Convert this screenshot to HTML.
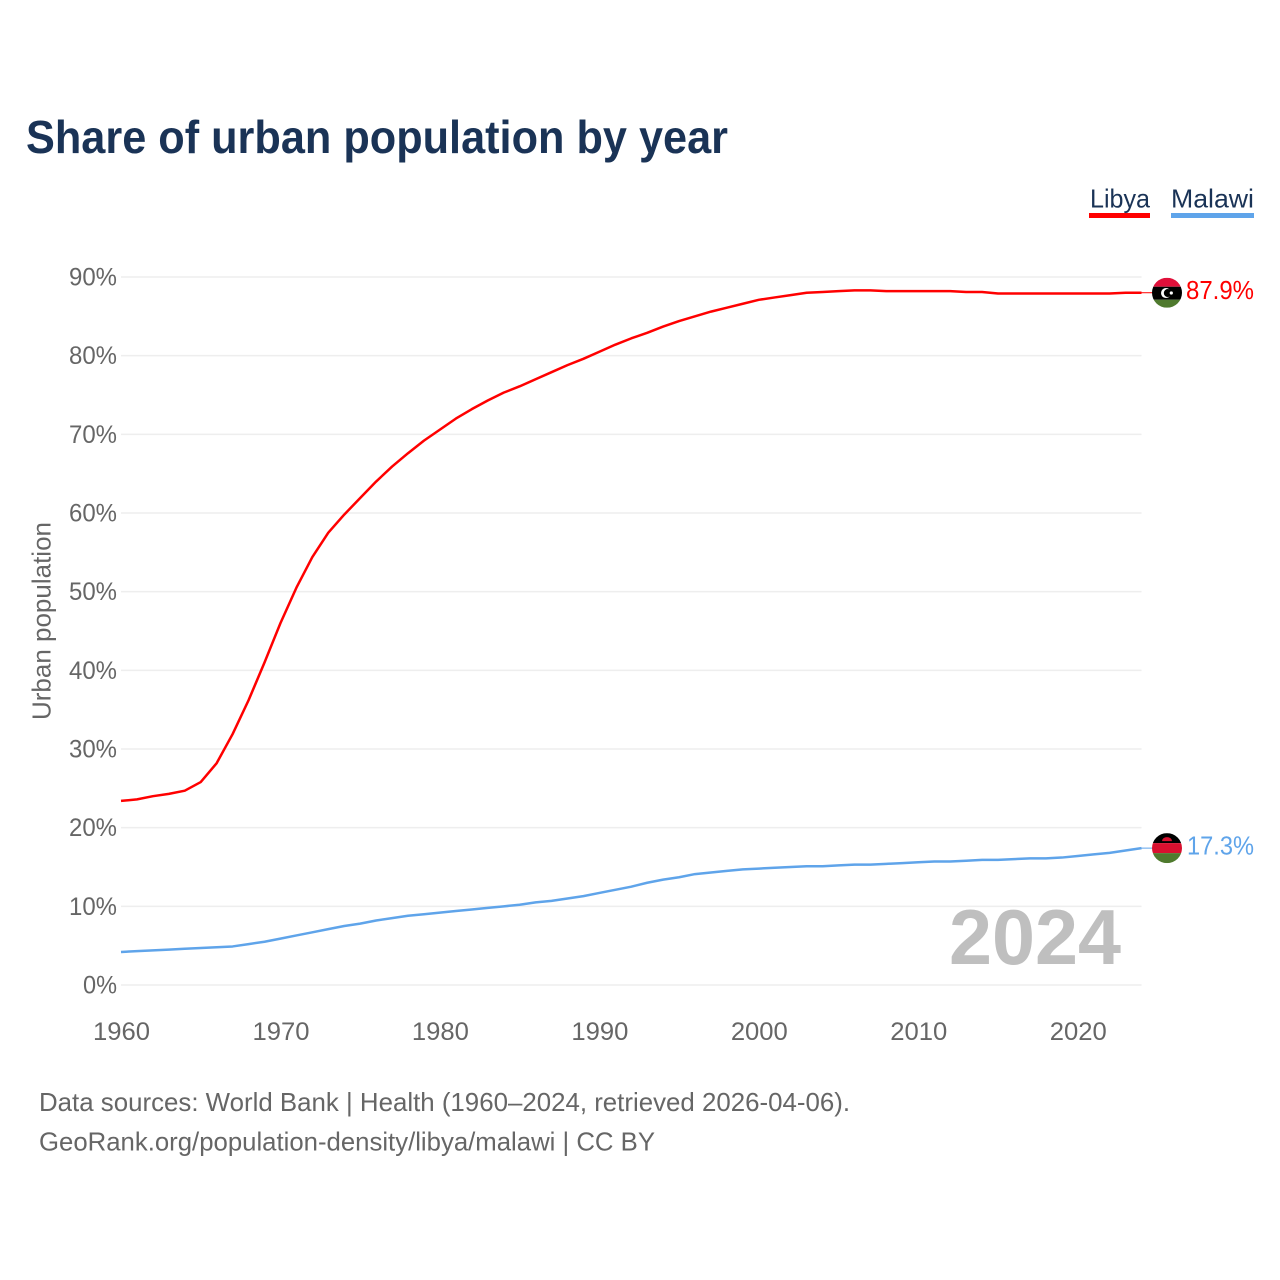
<!DOCTYPE html>
<html lang="en">
<head>
<meta charset="utf-8">
<title>Share of urban population by year</title>
<style>
html,body{margin:0;padding:0;background:#fff;width:1280px;height:1280px;overflow:hidden}
svg{display:block}
text{font-family:"Liberation Sans",sans-serif}
</style>
</head>
<body>
<svg id="chart" xmlns="http://www.w3.org/2000/svg" width="1280" height="1280" viewBox="0 0 1280 1280">
  <defs>
    <clipPath id="flag-clip"><circle cx="0" cy="0" r="15"></circle></clipPath>
  </defs>
  <rect x="0" y="0" width="1280" height="1280" fill="#fff"></rect>
  <text x="26" y="153" font-size="46" font-weight="700" fill="#1a3356" textLength="702" lengthAdjust="spacingAndGlyphs">Share of urban population by year</text>

  <g>
    <text x="1090" y="207.5" font-size="26" fill="#1a3356" textLength="60" lengthAdjust="spacingAndGlyphs">Libya</text>
    <rect x="1089" y="213" width="61" height="5" fill="#ff0000"></rect>
  </g>
  <g>
    <text x="1171" y="207.5" font-size="26" fill="#1a3356" textLength="83" lengthAdjust="spacingAndGlyphs">Malawi</text>
    <rect x="1171" y="213" width="83" height="5" fill="#5fa4ea"></rect>
  </g>

  <text transform="translate(50.5,621) rotate(-90)" text-anchor="middle" font-size="26" fill="#666" textLength="198" lengthAdjust="spacingAndGlyphs">Urban population</text>

  <g id="grid"></g>
  <g id="y-labels"></g>
  <g id="x-labels"></g>

  <text x="949" y="964" font-size="78" font-weight="700" fill="#bfbfbf" textLength="172" lengthAdjust="spacingAndGlyphs">2024</text>

  <path id="line-libya" fill="none" stroke="#ff0000" stroke-width="2.5" stroke-linejoin="round"></path>
  <path id="line-malawi" fill="none" stroke="#5fa4ea" stroke-width="2.5" stroke-linejoin="round"></path>
  <line id="leader-libya" stroke="#ff0000" stroke-width="1"></line>
  <line id="leader-malawi" stroke="#5fa4ea" stroke-width="1"></line>

  <g id="flag-libya">
    <g clip-path="url(#flag-clip)">
      <rect x="-15" y="-15" width="30" height="9" fill="#e0103a"></rect>
      <rect x="-15" y="-6" width="30" height="13" fill="#000"></rect>
      <rect x="-15" y="7" width="30" height="8" fill="#4f7a2e"></rect>
      <circle cx="-1" cy="0.3" r="5" fill="#fff"></circle>
      <circle cx="0.8" cy="0.3" r="4" fill="#000"></circle>
      <circle cx="4.3" cy="0.3" r="1.6" fill="#fff"></circle>
    </g>
  </g>
  <g id="flag-malawi">
    <g clip-path="url(#flag-clip)">
      <rect x="-15" y="-15" width="30" height="10" fill="#000"></rect>
      <rect x="-15" y="-5" width="30" height="10" fill="#d9102f"></rect>
      <rect x="-15" y="5" width="30" height="10" fill="#4f7a2e"></rect>
      <path d="M-5 -7 A5 4 0 0 1 5 -7 Z" fill="#d9102f"></path>
    </g>
  </g>
  <text id="value-libya" x="1254" text-anchor="end" font-size="26" fill="#ff0000" textLength="68" lengthAdjust="spacingAndGlyphs">87.9%</text>
  <text id="value-malawi" x="1254" text-anchor="end" font-size="26" fill="#5fa4ea" textLength="67" lengthAdjust="spacingAndGlyphs">17.3%</text>

  <text x="39" y="1111" font-size="26" fill="#666" textLength="811" lengthAdjust="spacingAndGlyphs">Data sources: World Bank | Health (1960–2024, retrieved 2026-04-06).</text>
  <text x="39" y="1150.5" font-size="26" fill="#666" textLength="616" lengthAdjust="spacingAndGlyphs">GeoRank.org/population-density/libya/malawi | CC BY</text>
</svg>
<script>
const firstYear = 1960;
const lastYear = 2024;
const xTicks = [1960, 1970, 1980, 1990, 2000, 2010, 2020];
const yTicks = [0, 10, 20, 30, 40, 50, 60, 70, 80, 90];
const libya = [23.4,23.6,24.0,24.3,24.7,25.8,28.2,31.9,36.2,41.0,
  46.0,50.5,54.4,57.5,59.8,61.9,64.0,65.9,67.6,69.2,
  70.6,72.0,73.2,74.3,75.3,76.1,77.0,77.9,78.8,79.6,
  80.5,81.4,82.2,82.9,83.7,84.4,85.0,85.6,86.1,86.6,
  87.1,87.4,87.7,88.0,88.1,88.2,88.3,88.3,88.2,88.2,
  88.2,88.2,88.2,88.1,88.1,87.9,87.9,87.9,87.9,87.9,
  87.9,87.9,87.9,88.0,88.0];
const malawi = [4.2,4.3,4.4,4.5,4.6,4.7,4.8,4.9,5.2,5.5,
  5.9,6.3,6.7,7.1,7.5,7.8,8.2,8.5,8.8,9.0,
  9.2,9.4,9.6,9.8,10.0,10.2,10.5,10.7,11.0,11.3,
  11.7,12.1,12.5,13.0,13.4,13.7,14.1,14.3,14.5,14.7,
  14.8,14.9,15.0,15.1,15.1,15.2,15.3,15.3,15.4,15.5,
  15.6,15.7,15.7,15.8,15.9,15.9,16.0,16.1,16.1,16.2,
  16.4,16.6,16.8,17.1,17.4];

const NS = 'http://www.w3.org/2000/svg';
const plotLeft = 121, plotRight = 1141.5, plotBottom = 985, plotTop = 277;
function xScale(year) {
  return plotLeft + (year - firstYear) / (lastYear - firstYear) * (plotRight - plotLeft);
}
function yScale(value) {
  return plotBottom - value / 90 * (plotBottom - plotTop);
}
function linePath(values) {
  return values.map(function (v, i) {
    return (i ? 'L' : 'M') + xScale(firstYear + i).toFixed(2) + ' ' + yScale(v).toFixed(2);
  }).join(' ');
}

const grid = document.getElementById('grid');
const yLabels = document.getElementById('y-labels');
const xLabels = document.getElementById('x-labels');

yTicks.forEach(function (t) {
  const line = document.createElementNS(NS, 'line');
  
  
  line.setAttribute('x1', plotLeft);
  line.setAttribute('x2', plotRight);
  line.setAttribute('y1', yScale(t));
  line.setAttribute('y2', yScale(t));
  line.setAttribute('stroke', '#eeeeee');
  line.setAttribute('stroke-width', '1.5');
  grid.appendChild(line);

  const label = document.createElementNS(NS, 'text');
  
  
  label.setAttribute('x', 117);
  label.setAttribute('y', yScale(t) + 8.5);
  label.setAttribute('text-anchor', 'end');
  label.setAttribute('font-size', '25');
  label.setAttribute('fill', '#666');
  label.setAttribute('textLength', t === 0 ? 34 : 48);
  label.setAttribute('lengthAdjust', 'spacingAndGlyphs');
  label.textContent = t + '%';
  yLabels.appendChild(label);
});

xTicks.forEach(function (t) {
  const label = document.createElementNS(NS, 'text');
  
  
  label.setAttribute('x', xScale(t) + 0.5);
  label.setAttribute('y', 1040);
  label.setAttribute('text-anchor', 'middle');
  label.setAttribute('font-size', '25');
  label.setAttribute('fill', '#666');
  label.setAttribute('textLength', 57);
  label.setAttribute('lengthAdjust', 'spacingAndGlyphs');
  label.textContent = t;
  xLabels.appendChild(label);
});

document.getElementById('line-libya').setAttribute('d', linePath(libya));
document.getElementById('line-malawi').setAttribute('d', linePath(malawi));

function placeEnd(name, values, labelOffset) {
  const last = values[values.length - 1];
  const y = yScale(last);
  const leader = document.getElementById('leader-' + name);
  leader.setAttribute('x1', plotRight);
  leader.setAttribute('x2', 1153);
  leader.setAttribute('y1', y);
  leader.setAttribute('y2', y);
  document.getElementById('flag-' + name).setAttribute('transform', 'translate(1167,' + y + ')');
  document.getElementById('value-' + name).setAttribute('y', y + labelOffset);
}
placeEnd('libya', libya, 6.5);
placeEnd('malawi', malawi, 6.5);
</script>
</body>
</html>
